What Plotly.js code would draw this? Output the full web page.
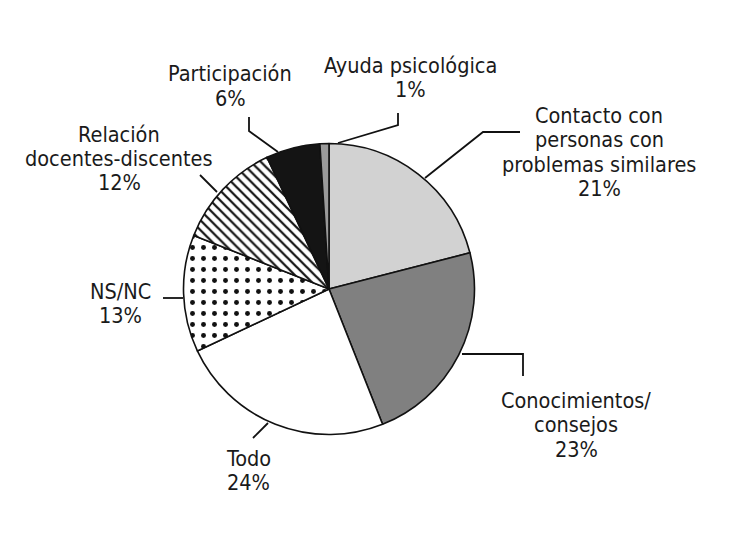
<!DOCTYPE html>
<html>
<head>
<meta charset="utf-8">
<script src="https://cdn.plot.ly/plotly-3.0.1.min.js"></script>
<style>
	body { margin: 0; background: #fff; }
	#grafico { width: 730px; height: 555px; }
</style>
</head>
<body>
<div id="grafico"></div>
<script>
// Datos
const categorias = [
	'Contacto con personas con problemas similares',
	'Conocimientos/ consejos',
	'Todo',
	'NS/NC',
	'Relación docentes-discentes',
	'Participación',
	'Ayuda psicológica',
];
const porcentajes = [21, 23, 24, 13, 12, 6, 1];
const lineasEtiqueta = [
	['Contacto con', 'personas con', 'problemas similares'],
	['Conocimientos/', 'consejos'],
	['Todo'],
	['NS/NC'],
	['Relación', 'docentes-discentes'],
	['Participación'],
	['Ayuda psicológica'],
];

// Estilos
const colores = ['#d2d2d2', '#808080', '#ffffff', '#ffffff', '#ffffff', '#141414', '#9a9a9a'];
const tramas = ['', '', '', '.', '\\', '', ''];
const tamTrama = [10, 10, 10, 11, 7, 10, 10];
const solidez = [0.2, 0.2, 0.2, 0.16, 0.32, 0.2, 0.2];

// Posición de las etiquetas (px): centro x, centro de la primera línea y
const posEtiqueta = [
	[599, 115],
	[576, 400],
	[248, 458],
	[120, 291],
	[119, 134],
	[230, 74],
	[410, 65],
];
const pasoLinea = 24.5;

// Líneas guía (px)
const guias = [
	[[520, 132], [483, 132], [425, 178]],
	[[462, 354], [523, 354], [523, 376]],
	[[253, 438], [268, 423]],
	[[163, 298], [183, 298]],
	[[200, 175], [217, 192]],
	[[249, 117], [249, 131], [278, 152]],
	[[398, 113], [398, 125], [338, 143]],
];

const W = 730, H = 555;
const px = (x) => x / W;
const py = (y) => 1 - y / H;

const fuente = 'DejaVu Sans Condensed, Liberation Sans, sans-serif';

var trace = {
	type: 'pie',
	labels: categorias,
	values: porcentajes,
	sort: false,
	direction: 'clockwise',
	rotation: 0,
	textinfo: 'none',
	hoverinfo: 'label+percent',
	showlegend: false,
	domain: {
		x: [px(329 - 145.5), px(329 + 145.5)],
		y: [py(289 + 145.5), py(289 - 145.5)],
	},
	marker: {
		colors: colores,
		line: { color: '#111', width: 1.6 },
		pattern: {
			shape: tramas,
			fgcolor: '#111',
			bgcolor: '#ffffff',
			size: tamTrama,
			solidity: solidez,
		},
	},
};

var annotations = [];
lineasEtiqueta.forEach(function (lineas, i) {
	var todas = lineas.concat([porcentajes[i] + '%']);
	todas.forEach(function (t, j) {
		annotations.push({
			text: t,
			xref: 'paper',
			yref: 'paper',
			x: px(posEtiqueta[i][0]),
			y: py(posEtiqueta[i][1] + j * pasoLinea),
			xanchor: 'center',
			yanchor: 'middle',
			showarrow: false,
			borderpad: 0,
			font: { family: fuente, size: 21.5, color: '#1a1a1a' },
		});
	});
});

var shapes = guias.map(function (g) {
	var d = g.map(function (p, k) {
		return (k === 0 ? 'M ' : 'L ') + px(p[0]) + ' ' + py(p[1]);
	}).join(' ');
	return {
		type: 'path',
		xref: 'paper',
		yref: 'paper',
		path: d,
		line: { color: '#111', width: 1.8 },
	};
});

var layout = {
	width: W,
	height: H,
	margin: { l: 0, r: 0, t: 0, b: 0 },
	paper_bgcolor: '#ffffff',
	plot_bgcolor: '#ffffff',
	font: { family: fuente },
	annotations: annotations,
	shapes: shapes,
};

var config = { displayModeBar: false, responsive: false };

Plotly.newPlot('grafico', [trace], layout, config);
</script>
</body>
</html>
